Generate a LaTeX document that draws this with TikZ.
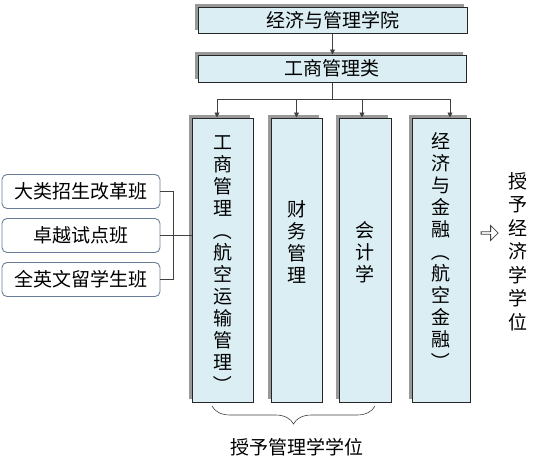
\documentclass[tikz,border=0pt]{standalone}
\usepackage{fontspec}
\setmainfont{Noto Sans CJK SC}
\usetikzlibrary{arrows.meta,shapes.arrows,shadows,decorations.pathreplacing}
\definecolor{orgfill}{HTML}{DAEEF3}
\definecolor{orgdraw}{HTML}{262626}
\definecolor{clsdraw}{HTML}{6B7E99}
\definecolor{orgline}{HTML}{404040}
\newcommand{\vlp}{\rotatebox[origin=c]{-90}{（}}
\newcommand{\vrp}{\rotatebox[origin=c]{-90}{）}}

\begin{document}
\begin{tikzpicture}[x=1pt, y=-1pt,
    every node/.style={font=\fontsize{19pt}{22pt}\selectfont, inner sep=0pt},
    unit/.style={rectangle, fill=orgfill, draw=orgdraw, line width=1pt,
      drop shadow={shadow xshift=-3pt, shadow yshift=3pt, fill=black!40, opacity=1}},
    major/.style={unit, minimum height=284pt},
    vtext/.style={align=center},
    cls/.style={rectangle, rounded corners=5pt, draw=clsdraw, line width=0.9pt, fill=white,
      minimum width=158pt, minimum height=34pt},
    link/.style={draw=orgline, line width=0.8pt},
    arr/.style={link, -{Triangle[length=5pt,width=5pt]}}]
    \useasboundingbox (0,0) rectangle (546,461);

    % school and discipline
    \node[unit, minimum width=269pt, minimum height=26pt] (school) at (332.5,20) {经济与管理学院};
    \node[unit, minimum width=268pt, minimum height=27pt] (dept) at (332,68.5) {工商管理类};

    % majors
    \node[major, minimum width=61pt] (bam) at (222.5,260) {};
    \node[major, minimum width=51pt] (fin) at (296.5,260) {};
    \node[major, minimum width=52pt] (acc) at (365,260) {};
    \node[major, minimum width=58pt] (econ) at (441,260) {};
    \node[vtext] (bamtext) at ([yshift=-5pt]bam.center) {工\\商\\管\\理\\\vlp\\航\\空\\运\\输\\管\\理\\\vrp};
    \node[vtext] (fintext) at ([yshift=18pt]fin.center) {财\\务\\管\\理};
    \node[vtext] (acctext) at ([yshift=8pt]acc.center) {会\\计\\学};
    \node[vtext] (econtext) at ([yshift=8pt]econ.center) {经\\济\\与\\金\\融\\\vlp\\航\\空\\金\\融\\\vrp};

    % classes
    \node[cls] (bigclass) at (81,191.5) {大类招生改革班};
    \node[cls] (elite) at (81,235.5) {卓越试点班};
    \node[cls] (intl) at (81,279.5) {全英文留学生班};

    % degrees
    \node (mgmtdeg) at (297,447) {授予管理学学位};
    \node[single arrow, draw=orgline, line width=0.8pt, minimum height=17pt, minimum width=15pt,
      single arrow head extend=2pt] (hint) at (489,233) {};
    \node[vtext, font=\fontsize{19pt}{23.5pt}\selectfont] (econdeg) at (518,251.5) {授\\予\\经\\济\\学\\学\\位};

    \coordinate (bus) at (332,99);
    \coordinate (bl) at (212,406);
    \coordinate (br) at (375,406);

    \draw[arr] (school.south) -- (school.south |- dept.north);
    \draw[link] (dept.south) -- (bus);
    \draw[arr] (bus) -| ([xshift=-5.5pt]bam.north);
    \draw[arr] (bus) -| (fin.north);
    \draw[arr] (bus) -| ([xshift=-3pt]acc.north);
    \draw[arr] (bus) -| ([xshift=9pt]econ.north);
    \draw[link] (bigclass.east) -- ++(13,0) |- (intl.east);
    \draw[link] (elite.east) -- (elite.east -| bam.west);
    \draw[link, line width=0.6pt, decorate, decoration={brace, mirror, amplitude=18pt}] (bl) -- (br);
  \end{tikzpicture}
\end{document}
